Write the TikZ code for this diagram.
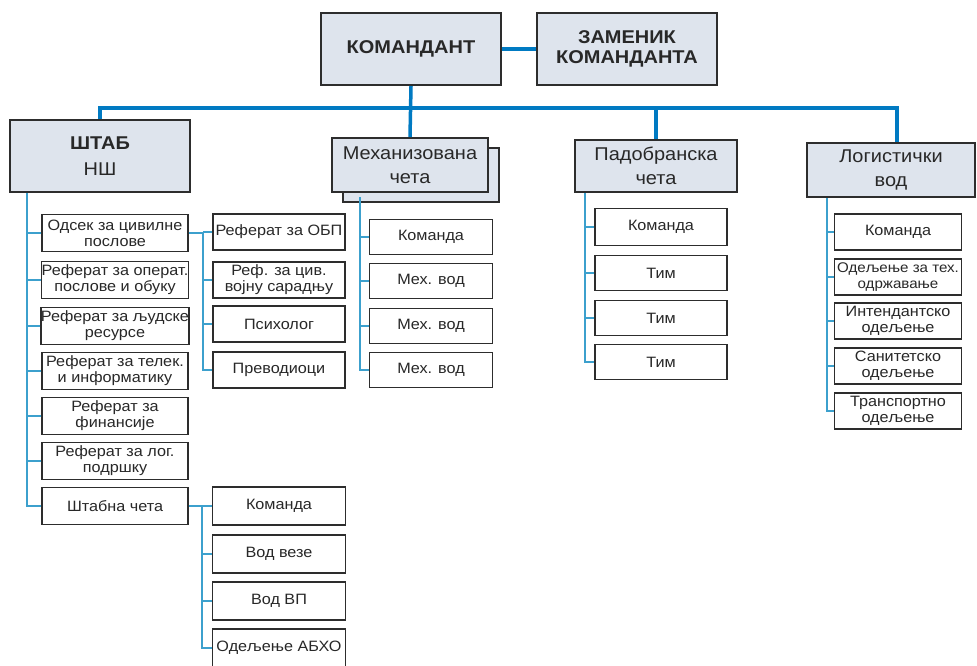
\documentclass[tikz,border=0pt]{standalone}
\usepackage{fontspec}
\setmainfont[FakeStretch=1.08]{Liberation Sans}
\usetikzlibrary{positioning, calc}
\definecolor{busblue}{RGB}{0, 122, 194}
\definecolor{linkblue}{RGB}{60, 160, 205}
\definecolor{boxgray}{RGB}{222, 228, 237}
\definecolor{edgegray}{RGB}{45, 45, 45}
\definecolor{textgray}{RGB}{40, 40, 40}

\begin{document}
\begin{tikzpicture}[x=1pt, y=-1pt,
  headbox/.style={draw=edgegray, fill=boxgray, line width=2pt, inner sep=0pt, align=center, text=textgray, font=\fontsize{18.5}{24}\selectfont},
  subbox/.style={draw=edgegray, fill=white, line width=1.4pt, inner sep=0pt, align=center, text=textgray, font=\fontsize{15}{16}\selectfont},
  bus/.style={draw=busblue, line width=3.5pt},
  link/.style={draw=linkblue, line width=1.6pt}]
  \useasboundingbox (0,0) rectangle (977,665);

  % Command
  \node[headbox, minimum width=180pt, minimum height=72pt] (kom) at (411, 49) {\textbf{КОМАНДАНТ}};
  \node[headbox, minimum width=180pt, minimum height=72pt, font=\fontsize{18.5}{20.5}\selectfont] (zam) at (627, 49) {\textbf{ЗАМЕНИК}\\\textbf{КОМАНДАНТА}};
  \draw[bus] (kom) -- (zam);

  % Units
  \node[headbox, minimum width=180pt, minimum height=72pt, font=\fontsize{18.5}{26}\selectfont] (shtab) at (100, 156) {\textbf{ШТАБ}\\НШ};
  \node[headbox, minimum width=156pt, minimum height=54pt] (mechsh) at (421, 175) {};
  \node[headbox, minimum width=156pt, minimum height=54pt] (mech) at (410, 165) {Механизована\\чета};
  \node[headbox, minimum width=162pt, minimum height=52pt] (pad) at (656, 166) {Падобранска\\чета};
  \node[headbox, minimum width=168pt, minimum height=54pt] (logv) at (891, 170) {Логистички\\вод};

  \coordinate (busy) at (0, 108);
  \draw[bus] (shtab.north) -- (shtab.north |- busy) -| ([xshift=6pt]logv.north);
  \draw[bus] (kom.south) -- (mech.north);
  \draw[bus] (pad.north) -- (pad.north |- busy);

  % Staff
  \node[subbox, minimum width=146pt, minimum height=37pt] (s1) at (115, 233) {Одсек за цивилне\\послове};
  \node[subbox, minimum width=146pt, minimum height=37pt] (s2) at (115, 280) {Реферат за операт.\\послове и обуку};
  \node[subbox, minimum width=146pt, minimum height=37pt] (s3) at (115, 326) {Реферат за људске\\ресурсе};
  \node[subbox, minimum width=146pt, minimum height=37pt] (s4) at (115, 371) {Реферат за телек.\\и информатику};
  \node[subbox, minimum width=146pt, minimum height=37pt] (s5) at (115, 416) {Реферат за\\финансије};
  \node[subbox, minimum width=146pt, minimum height=37pt] (s6) at (115, 461) {Реферат за лог.\\подршку};
  \node[subbox, minimum width=146pt, minimum height=37pt] (s7) at (115, 506) {Штабна чета};
  \coordinate (shv) at (27, 0);
  \draw[link] (shtab.south -| shv) |- (s7.west);
  \foreach \n in {s1, s2, s3, s4, s5, s6} \draw[link] (\n.west) -- (\n.west -| shv);

  % Civil affairs section
  \node[subbox, minimum width=132pt, minimum height=36pt] (ob1) at (279, 232) {Реферат за ОБП};
  \node[subbox, minimum width=132pt, minimum height=36pt] (ob2) at (279, 280) {Реф. за цив.\\војну сарадњу};
  \node[subbox, minimum width=132pt, minimum height=36pt] (ob3) at (279, 324) {Психолог};
  \node[subbox, minimum width=132pt, minimum height=36pt] (ob4) at (279, 370) {Преводиоци};
  \coordinate (cv) at (203, 0);
  \draw[link] (s1.east) -- (s1.east -| cv) |- (ob4.west);
  \foreach \n in {ob1, ob2, ob3} \draw[link] (\n.west) -- (\n.west -| cv);

  % Staff company
  \node[subbox, minimum width=133pt, minimum height=38pt] (t1) at (279, 506) {Команда};
  \node[subbox, minimum width=133pt, minimum height=38pt] (t2) at (279, 554) {Вод везе};
  \node[subbox, minimum width=133pt, minimum height=38pt] (t3) at (279, 601) {Вод ВП};
  \node[subbox, minimum width=133pt, minimum height=38pt] (t4) at (279, 648) {Одељење АБХО};
  \coordinate (tv) at (202, 0);
  \draw[link] (s7.east) -- (s7.east -| tv) |- (t4.west);
  \foreach \n in {t1, t2, t3} \draw[link] (\n.west) -- (\n.west -| tv);

  % Mechanized company
  \node[subbox, minimum width=123pt, minimum height=35pt] (m1) at (431, 237) {Команда};
  \node[subbox, minimum width=123pt, minimum height=35pt] (m2) at (431, 281) {Мех. вод};
  \node[subbox, minimum width=123pt, minimum height=35pt] (m3) at (431, 326) {Мех. вод};
  \node[subbox, minimum width=123pt, minimum height=35pt] (m4) at (431, 370) {Мех. вод};
  \coordinate (mv) at (360, 0);
  \draw[link] ([yshift=6pt]mechsh.south -| mv) |- (m4.west);
  \foreach \n in {m1, m2, m3} \draw[link] (\n.west) -- (\n.west -| mv);

  % Airborne company
  \node[subbox, minimum width=132pt, minimum height=37pt] (p1) at (661, 227) {Команда};
  \node[subbox, minimum width=132pt, minimum height=35pt] (p2) at (661, 273) {Тим};
  \node[subbox, minimum width=132pt, minimum height=35pt] (p3) at (661, 318) {Тим};
  \node[subbox, minimum width=132pt, minimum height=35pt] (p4) at (661, 362) {Тим};
  \coordinate (pv) at (585, 0);
  \draw[link] (pad.south -| pv) |- (p4.west);
  \foreach \n in {p1, p2, p3} \draw[link] (\n.west) -- (\n.west -| pv);

  % Logistics platoon
  \node[subbox, minimum width=127pt, minimum height=36pt] (l1) at (898, 232) {Команда};
  \node[subbox, minimum width=127pt, minimum height=36pt, font=\fontsize{14}{16}\selectfont] (l2) at (898, 277) {Одељење за тех.\\одржавање};
  \node[subbox, minimum width=127pt, minimum height=36pt] (l3) at (898, 321) {Интендантско\\одељење};
  \node[subbox, minimum width=127pt, minimum height=36pt] (l4) at (898, 366) {Санитетско\\одељење};
  \node[subbox, minimum width=127pt, minimum height=36pt] (l5) at (898, 411) {Транспортно\\одељење};
  \coordinate (lv) at (827, 0);
  \draw[link] (logv.south -| lv) |- (l5.west);
  \foreach \n in {l1, l2, l3, l4} \draw[link] (\n.west) -- (\n.west -| lv);
\end{tikzpicture}
\end{document}
